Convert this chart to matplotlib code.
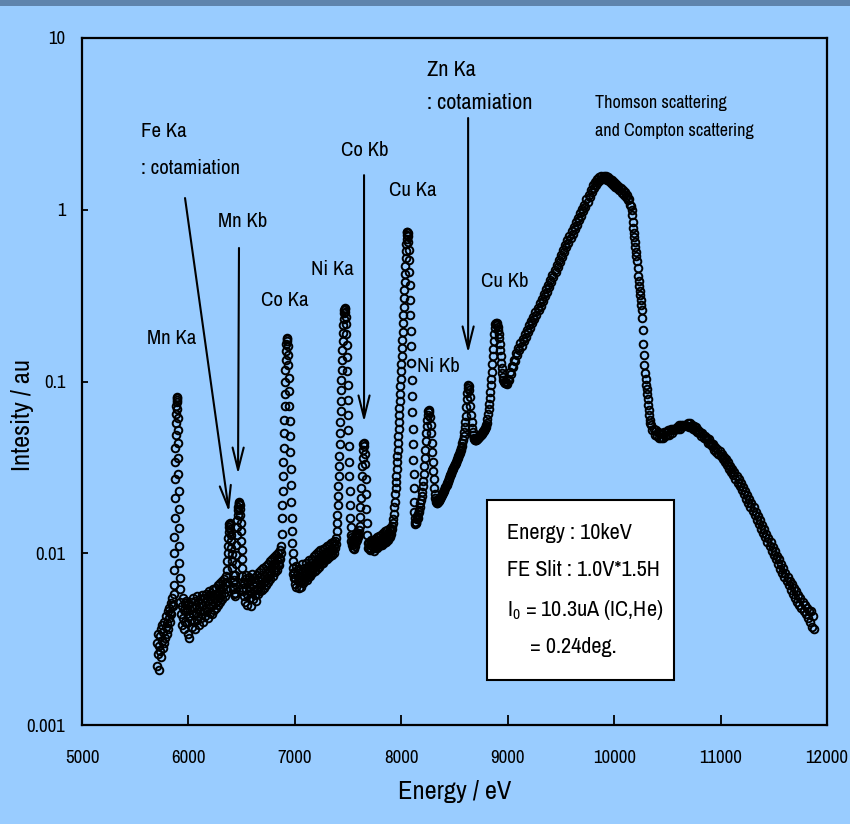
import numpy as np
import matplotlib
matplotlib.use('Agg')
import matplotlib.pyplot as plt
from matplotlib.patches import Rectangle

plt.rcParams['font.family'] = ['Archivo Narrow', 'Liberation Sans', 'DejaVu Sans']
plt.rcParams['mathtext.default'] = 'regular'

# spectrum: each region is a scan with a start energy and a step (eV)
base_a = [
    .0030, .0022, .0034, .0026, .0029, .0021, .0033, .0027, .0036, .0025,
    .0031, .0038, .0028, .0035, .0030, .0040, .0032, .0037, .0043, .0034,
    .0039, .0046, .0036, .0042, .0048, .0040, .0045, .0051, .0044, .0050,
    .0055, .0049, .0058,
]
mn_ka = [
    .0065, .0080, .0100, .0125, .016, .021, .027, .034, .041, .049,
    .057, .065, .072, .078, .081, .080, .076, .069, .061, .052,
    .044, .036, .029, .023, .018, .014, .011, .0088, .0072, .0062,
]
base_b = [
    .0052, .0044, .0049, .0038, .0055, .0042, .0047, .0036, .0051, .0040,
    .0046, .0053, .0039, .0048, .0034, .0050, .0043, .0032, .0047, .0041,
    .0052, .0037, .0049, .0044, .0055, .0040, .0048, .0036, .0053, .0045,
    .0050, .0041, .0056, .0043, .0049, .0038, .0054, .0046, .0051, .0042,
    .0057, .0044, .0050, .0040, .0055, .0047, .0052, .0043, .0058, .0046,
    .0053, .0042, .0056, .0048, .0060, .0045, .0054, .0049, .0059, .0044,
    .0057, .0050, .0062, .0047, .0055, .0051, .0063, .0048, .0058, .0053,
    .0065, .0050, .0060, .0055, .0067, .0052, .0061, .0057, .0069, .0054,
    .0064, .0059, .0071, .0056, .0066, .0062, .0074, .0068,
]
fe_ka_mn_kb = [
    .0080, .0090, .0100, .0110, .0122, .0133, .0142, .0148, .0150, .0146,
    .0138, .0128, .0118, .0108, .0099, .0090, .0082, .0075, .0068, .0062,
    .0058, .0070, .0064, .0059, .0056, .0066, .0075, .0086, .0098, .0112,
    .0127, .0142, .0156, .0168, .0178, .0186, .0193, .0198, .0196, .0190,
    .0180, .0166, .0150, .0134, .0118, .0104, .0092, .0082, .0074, .0068,
    .0063, .0060,
]
base_c = [
    .0066, .0056, .0071, .0052, .0062, .0075, .0058, .0050, .0068, .0060,
    .0073, .0055, .0064, .0049, .0070, .0059, .0076, .0054, .0066, .0061,
    .0072, .0057, .0068, .0053, .0075, .0062, .0070, .0058, .0078, .0064,
    .0060, .0073, .0066, .0080, .0061, .0071, .0067, .0082, .0063, .0074,
    .0069, .0084, .0065, .0077, .0072, .0087, .0068, .0079, .0074, .0090,
    .0071, .0082, .0077, .0093, .0074, .0085, .0080, .0095, .0078, .0088,
    .0083, .0098, .0080, .0091, .0087, .0101, .0085, .0094, .0092, .0105,
    .0100,
]
co_ka = [
    .011, .013, .016, .019, .023, .028, .034, .041, .050, .060,
    .072, .085, .100, .116, .133, .150, .165, .176, .178, .172,
    .160, .143, .124, .105, .088, .072, .059, .048, .039, .031,
    .025, .020, .016, .0135, .0115, .0100, .0090, .0082, .0076, .0072,
]
base_d = [
    .0078, .0066, .0072, .0084, .0064, .0075, .0069, .0081, .0063, .0073,
    .0068, .0080, .0070, .0064, .0077, .0086, .0067, .0074, .0082, .0069,
    .0079, .0072, .0088, .0070, .0077, .0084, .0073, .0091, .0076, .0081,
    .0074, .0088, .0079, .0093, .0077, .0085, .0081, .0096, .0079, .0088,
    .0084, .0099, .0081, .0090, .0087, .0102, .0083, .0093, .0089, .0104,
    .0086, .0096, .0092, .0106, .0088, .0098, .0094, .0108, .0091, .0101,
    .0097, .0110, .0093, .0103, .0099, .0112, .0095, .0105, .0101, .0114,
    .0098, .0108, .0104, .0116, .0101, .0111, .0107, .0118, .0113, .0122,
]
ni_ka = [
    .0135, .0150, .0168, .0190, .0215, .0245, .028, .032, .037, .043,
    .050, .058, .067, .077, .089, .102, .117, .134, .152, .172,
    .192, .212, .232, .250, .262, .268, .265, .255, .238, .215,
    .190, .163, .138, .115, .095, .078, .064, .052, .042, .034,
    .028, .023, .019, .016, .0142, .0128, .0118, .0112, .0124, .0115,
]
co_kb = [
    .0108, .0121, .0113, .0106, .0119, .0110, .0125, .0116, .0130, .0122,
    .0127, .0119, .0132, .0124, .0136, .0128, .0145, .0162, .0185, .021,
    .024, .028, .032, .036, .040, .043, .044, .042, .038, .033,
    .027, .022, .018, .0150, .0128, .0115, .0108,
]
base_e = [
    .0108, .0115, .0104, .0112, .0120, .0106, .0114, .0109, .0118, .0103,
    .0113, .0121, .0107, .0116, .0111, .0124, .0108, .0118, .0113, .0126,
    .0110, .0120, .0115, .0128, .0112, .0122, .0117, .0131, .0114, .0125,
    .0120, .0134, .0117, .0127, .0123, .0137, .0120, .0130, .0126, .0140,
    .0124, .0134, .0130, .0145, .0138, .0150, .0158, .0170, .0185, .0200,
]
cu_ka = [
    .022, .024, .026, .028, .031, .034, .037, .040, .044, .048,
    .053, .058, .064, .070, .077, .085, .094, .104, .115, .127,
    .141, .157, .175, .195, .218, .244, .273, .305, .341, .381,
    .425, .472, .522, .575, .628, .678, .715, .738, .742, .730,
    .700, .650, .585, .510, .435, .365, .300, .245, .198, .160,
    .128, .102, .082, .066, .053, .043, .035, .029, .024, .020,
    .0175, .0160, .0152, .0148, .0150,
]
ni_kb_zn_ka_cu_kb = [
    .0150, .0158, .0165, .0160, .0170, .0178, .0175, .0186, .0195, .0205,
    .0215, .0228, .0245, .0265, .0290, .0320, .0360, .0400, .0450, .0500,
    .0550, .0600, .0640, .0670, .0680, .0660, .0620, .0560, .0500, .0440,
    .0390, .0340, .0300, .0270, .0240, .0220, .0210, .0203, .0198, .0196,
    .0196, .0199, .0201, .0204, .0206, .0209, .0212, .0215, .0218, .0221,
    .0224, .0227, .0231, .0235, .0239, .0243, .0247, .0251, .0255, .0260,
    .0265, .0270, .0275, .0280, .0285, .0290, .0295, .0300, .0305, .0310,
    .0315, .0320, .0325, .0330, .0336, .0342, .0348, .0354, .0360, .0366,
    .0372, .0378, .0385, .0392, .0400, .0410, .0422, .0436, .0456, .0480,
    .0510, .0543, .0580, .0630, .0710, .0790, .0860, .0920, .0955, .0940,
    .0890, .0810, .0720, .0640, .0580, .0535, .0505, .0485, .0470, .0462,
    .0458, .0456, .0456, .0457, .0460, .0464, .0468, .0472, .0477, .0482,
    .0486, .0490, .0494, .0498, .0503, .0508, .0513, .0518, .0524, .0530,
    .0536, .0543, .0555, .0575, .0605, .0645, .0690, .0740, .0800, .0870,
    .0950, .1040, .1140, .1260, .1400, .1550, .1720, .1890, .2040, .2150,
    .2190, .2180, .2140, .2080, .2000, .1900, .1780, .1650, .1520, .1400,
    .1290, .1200, .1120, .1060, .1020, .0995, .0985, .0980, .0985, .0995,
]
thomson_rise = [
    .097, .104, .102, .113, .111, .123, .121, .134, .132, .147,
    .143, .157, .152, .167, .161, .177, .171, .188, .182, .200,
    .193, .212, .205, .225, .218, .237, .230, .253, .244, .269,
    .260, .286, .277, .304, .294, .324, .313, .345, .333, .367,
    .355, .390, .378, .417, .404, .446, .432, .477, .462, .510,
    .494, .545, .528, .583, .565, .623, .604, .664, .642, .705,
    .682, .749, .724, .795, .769, .844, .816, .896, .867, .951,
    .920, 1.01, .977, 1.07, 1.04, 1.15, 1.11, 1.22, 1.19, 1.31,
    1.27, 1.39, 1.34, 1.45, 1.40, 1.51, 1.45, 1.55, 1.49, 1.58,
    1.51, 1.58, 1.52, 1.57, 1.50, 1.55, 1.47, 1.52, 1.44, 1.49,
    1.40, 1.45, 1.36, 1.41, 1.33, 1.38, 1.30, 1.34, 1.26, 1.31,
    1.22, 1.27, 1.18, 1.22, 1.14, 1.16, 1.06, 1.05,
]
thomson_fall = [
    .990, .930, .850, .780, .735, .690, .650, .610, .570, .535,
    .500, .455, .410, .385, .360, .337, .318, .298, .280, .262,
    .235, .200, .165, .142, .125, .112, .103, .096, .090, .085,
    .079, .073, .068, .064, .060, .057,
]
tail = [
    .056, .052, .053, .049, .052, .048, .051, .047, .050, .047,
    .050, .047, .051, .048, .051, .049, .052, .049, .053, .050,
    .053, .052, .053, .053, .054, .053, .056, .053, .056, .055,
    .056, .055, .056, .055, .057, .054, .057, .054, .056, .053,
    .055, .052, .054, .051, .052, .050, .051, .048, .050, .047,
    .048, .046, .047, .044, .046, .043, .044, .042, .043, .040,
    .0415, .0390, .0405, .0378, .0392, .0366, .0380, .0353, .0365, .0340,
    .0352, .0325, .0338, .0311, .0324, .0297, .0310, .0284, .0296, .0270,
    .0282, .0257, .0269, .0245, .0256, .0232, .0242, .0220, .0230, .0208,
    .0218, .0197, .0206, .0187, .0195, .0176, .0185, .0166, .0175, .0156,
    .0165, .0148, .0156, .0139, .0147, .0131, .0139, .0124, .0130, .0117,
    .0123, .0110, .0116, .0103, .0109, .0098, .0103, .0092, .0097, .0086,
    .0092, .0081, .0087, .0077, .0082, .0073, .0077, .0069, .0073, .0065,
    .0069, .0061, .0066, .0058, .0063, .0055, .0060, .0052, .0057, .0050,
    .0055, .0048, .0052, .0046, .0050, .0044, .0048, .0042, .0046, .0040,
    .0046, .0037, .0043, .0036,
]

scan_parts = [base_a, mn_ka, base_b, fe_ka_mn_kb, base_c, co_ka, base_d, ni_ka, co_kb,
              base_e, cu_ka, ni_kb_zn_ka_cu_kb, thomson_rise, thomson_fall, tail]
scan_start_ev = [5700, 5862, 5925, 6364, 6520, 6873, 6995, 7393, 7544,
                 7695, 7944, 8140, 8990, 10165, 10350]
scan_step_ev = [5, 2, 5, 3, 5, 3, 5, 3, 4, 5, 3, 5, 10, 5, 10]

# peak labels (text centre, in data units)
peak_labels = ['Mn Ka', 'Mn Kb', 'Co Ka', 'Ni Ka', 'Co Kb', 'Cu Ka', 'Ni Kb', 'Cu Kb']
peak_label_e = [5846, 6513, 6908, 7350, 7660, 8111, 8346, 8975]
peak_label_i = [0.179, 0.849, 0.298, 0.446, 2.20, 1.30, 0.123, 0.38]

# arrows: start -> tip
arrow_start = [(5968, 1.17), (6475, 0.599), (7650, 1.59), (8628, 3.42)]
arrow_tip = [(6381, 0.0174), (6466, 0.0289), (7650, 0.0581), (8628, 0.1466)]

x_ticks = [5000, 6000, 7000, 8000, 9000, 10000, 11000, 12000]
y_ticks = [0.001, 0.01, 0.1, 1, 10]
y_tick_labels = ['0.001', '0.01', '0.1', '1', '10']

box_lines = ['Energy : 10keV', 'FE Slit : 1.0V*1.5H',
             r'I$_0$ = 10.3uA (IC,He)', '= 0.24deg.']

bg = '#99ccff'

energy = np.concatenate([s + d * np.arange(len(p))
                         for p, s, d in zip(scan_parts, scan_start_ev, scan_step_ev)])
intensity = np.concatenate(scan_parts)

fig = plt.figure(figsize=(8.5, 8.24), dpi=100, facecolor=bg)
fig.patches.append(Rectangle((0, 1 - 6 / 824), 1, 6 / 824, transform=fig.transFigure,
                             facecolor='#5f84ad', edgecolor='none'))
ax = fig.add_axes([82 / 850, 1 - 725 / 824, 745 / 850, 687 / 824])
ax.set_facecolor(bg)

ax.plot(energy, intensity, linestyle='none', marker='o', markersize=5.5,
        markerfacecolor='none', markeredgecolor='black', markeredgewidth=1.4)

ax.set_yscale('log')
ax.set_xlim(5000, 12000)
ax.set_ylim(0.001, 10)
ax.set_xticks(x_ticks)
ax.set_xticklabels([str(t) for t in x_ticks])
ax.set_yticks(y_ticks)
ax.set_yticklabels(y_tick_labels)
ax.minorticks_off()
ax.tick_params(axis='x', direction='in', length=7, width=1.3, pad=18, labelsize=13.5)
ax.tick_params(axis='y', direction='in', length=4, width=1.3, pad=12, labelsize=13.5)
for s in ax.spines.values():
    s.set_linewidth(1.6)

ax.set_xlabel('Energy / eV', fontsize=19, labelpad=10)
fig.text(22 / 850, 1 - 415 / 824, 'Intesity / au', rotation=90, fontsize=19,
         ha='center', va='center')

for lab, e, i in zip(peak_labels, peak_label_e, peak_label_i):
    ax.text(e, i, lab, fontsize=15, ha='center', va='center')

ax.text(5554, 2.84, 'Fe Ka', fontsize=15, ha='left', va='center')
ax.text(5554, 1.75, ': cotamiation', fontsize=15, ha='left', va='center')
ax.text(8242, 6.51, 'Zn Ka', fontsize=16, ha='left', va='center')
ax.text(8242, 4.18, ': cotamiation', fontsize=16, ha='left', va='center')
ax.text(9821, 4.18, 'Thomson scattering', fontsize=13, ha='left', va='center')
ax.text(9821, 2.87, 'and Compton scattering', fontsize=13, ha='left', va='center')

for (e0, i0), (e1, i1) in zip(arrow_start, arrow_tip):
    ax.annotate('', xy=(e1, i1), xytext=(e0, i0),
                arrowprops=dict(arrowstyle='->,head_length=0.8,head_width=0.2',
                                mutation_scale=20, lw=1.5, color='black',
                                shrinkA=0, shrinkB=0))

ax.add_patch(Rectangle((0.5436, 0.0655), 0.251, 0.262, transform=ax.transAxes,
                       facecolor='white', edgecolor='black', lw=1.5, zorder=5))
box_x = [0.5705, 0.5705, 0.5705, 0.6013]
box_y = [0.2795, 0.2256, 0.1674, 0.1135]
for t, bx, by in zip(box_lines, box_x, box_y):
    ax.text(bx, by, t, transform=ax.transAxes, fontsize=16, ha='left', va='center', zorder=6)

fig.savefig('out.png', dpi=100, facecolor=bg)
